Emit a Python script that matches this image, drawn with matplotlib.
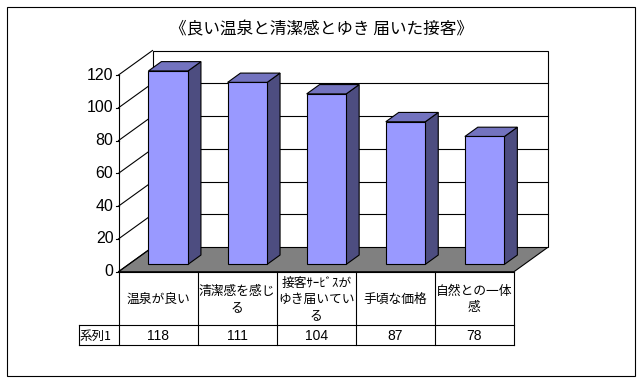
import matplotlib
matplotlib.use('Agg')
import matplotlib.pyplot as plt
from matplotlib.patches import Polygon, Rectangle
from matplotlib.lines import Line2D
from matplotlib.transforms import IdentityTransform

plt.rcParams['font.family'] = ['Noto Sans CJK JP', 'DejaVu Sans']

# ---------------- data ----------------
title = '《良い温泉と清潔感とゆき 届いた接客》'
categories = ['温泉が良い', '清潔感を感じ\nる', '接客ｻｰﾋﾞｽが\nゆき届いてい\nる',
              '手頃な価格', '自然との一体\n感']
series_name = '系列1'
values = [118, 111, 104, 87, 78]
yticks = [0, 20, 40, 60, 80, 100, 120]

# ---------------- figure ----------------
W, H = 643, 382
fig = plt.figure(figsize=(W / 100, H / 100), dpi=100)
fig.patch.set_facecolor('white')
ID = IdentityTransform()


def fy(y):
    return H - y


ax = fig.add_axes([118.5 / W, (H - 271.7) / H, 395.5 / W, 196.7 / H])
ax.set_xlim(0, len(values))
ax.set_ylim(yticks[0], yticks[-1])
ax.axis('off')

DX, DY = 34.0, 24.5   # depth offset of the 3D box in pixels
LW = 0.8


def P(x, v, d):
    X, Y = ax.transData.transform((x, v))
    return (X + d * DX, Y + d * DY)


def poly(pts, fc, z, ec='black'):
    ax.add_patch(Polygon(pts, closed=True, facecolor=fc, edgecolor=ec,
                         lw=LW, transform=ID, clip_on=False, zorder=z))


def line(p1, p2, z=2, color='black'):
    ax.add_line(Line2D([p1[0], p2[0]], [p1[1], p2[1]], color=color, lw=LW,
                       transform=ID, clip_on=False, zorder=z))


n = len(values)
vmax = yticks[-1]

# floor
poly([P(0, 0, 0), P(n, 0, 0), P(n, 0, 1), P(0, 0, 1)], '#808080', 1)
# back wall
poly([P(0, 0, 1), P(n, 0, 1), P(n, vmax, 1), P(0, vmax, 1)], 'white', 1)
# grid lines on back wall
for v in yticks[1:-1]:
    line(P(0, v, 1), P(n, v, 1))
# left wall diagonals
for v in yticks:
    line(P(0, v, 0), P(0, v, 1))

# front value axis (extends down through the data table)
x0, ytop = P(0, vmax, 0)
_, y0 = P(0, 0, 0)
line((x0, ytop), (x0, fy(345)))
for v in yticks:
    px, py = P(0, v, 0)
    line((px - 3, py), (px, py))
    ax.text(px - 5, py, str(v), transform=ID, ha='right', va='center',
            fontsize=11.5, family=['Liberation Sans', 'DejaVu Sans'])

# bars
f_front, f_back = 0.30, 0.68
bw = 0.5
for i, v in enumerate(values):
    xl, xr = i + (1 - bw) / 2, i + (1 + bw) / 2
    front = [P(xl, 0, f_front), P(xr, 0, f_front), P(xr, v, f_front), P(xl, v, f_front)]
    side = [P(xr, 0, f_front), P(xr, 0, f_back), P(xr, v, f_back), P(xr, v, f_front)]
    top = [P(xl, v, f_front), P(xr, v, f_front), P(xr, v, f_back), P(xl, v, f_back)]
    poly(side, '#4D4D80', 5)
    poly(top, '#7373BF', 5)
    poly(front, '#9999FF', 6)

# ---------------- data table ----------------
xs = [P(i, 0, 0)[0] for i in range(n + 1)]
x_left = 78.5
y_top, y_mid, y_bot = y0, fy(325), fy(345)
line((xs[0], y_top), (xs[-1], y_top))
line((x_left, y_mid), (xs[-1], y_mid))
line((x_left, y_bot), (xs[-1], y_bot))
line((x_left, y_mid), (x_left, y_bot))
for x in xs[1:]:
    line((x, y_top), (x, y_bot))

for i, (c, v) in enumerate(zip(categories, values)):
    cx = (xs[i] + xs[i + 1]) / 2
    ax.text(cx, fy(299.5), c, transform=ID, ha='center', va='center',
            fontsize=9.2, linespacing=1.32, multialignment='center')
    ax.text(cx, fy(336), str(v), transform=ID, ha='center', va='center',
            fontsize=10, family=['Liberation Sans', 'DejaVu Sans'])
ax.text(x_left + 1.5, fy(336), series_name, transform=ID, ha='left',
        va='center', fontsize=9)

# ---------------- title and border ----------------
fig.text(321 / W, fy(30) / H, title, ha='center', va='center', fontsize=12)
fig.add_artist(Rectangle((6.5, fy(375.5)), 628.5, 369, fill=False,
                         edgecolor='black', lw=LW, transform=ID))

fig.savefig('out.png', dpi=100, facecolor='white')
